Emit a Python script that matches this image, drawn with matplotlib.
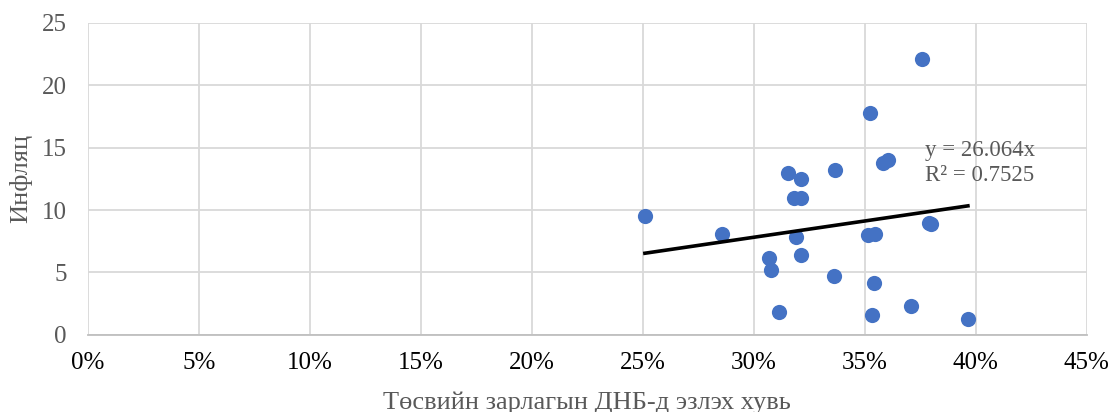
#!/usr/bin/env python3
# Scatter of budget spending share vs inflation with linear trend through origin

import numpy as np
import matplotlib.pyplot as plt
from matplotlib.ticker import FuncFormatter

# Data
spend_share = [0.376, 0.3524, 0.3584, 0.3606, 0.3368, 0.3156, 0.3212, 0.3183, 0.3213,
               0.251, 0.3791, 0.380, 0.2859, 0.319, 0.3513, 0.3546, 0.3069, 0.3214,
               0.3078, 0.3363, 0.3542, 0.3114, 0.3534, 0.3707, 0.3965]
inflation = [22.1, 17.8, 13.8, 14.0, 13.2, 13.0, 12.45, 11.0, 11.0,
             9.5, 9.0, 8.9, 8.08, 7.87, 8.0, 8.08, 6.16, 6.37,
             5.2, 4.7, 4.19, 1.87, 1.57, 2.32, 1.31]
slope = 26.064
r_squared = 0.7525

x_ticks = [0, 0.05, 0.10, 0.15, 0.20, 0.25, 0.30, 0.35, 0.40, 0.45]
y_ticks = [0, 5, 10, 15, 20, 25]

plt.rcParams['font.family'] = ['Liberation Serif', 'DejaVu Serif']

fig = plt.figure(figsize=(11.1, 4.12), dpi=100)
ax = fig.add_axes([0.079, 0.187, 0.9, 0.758])

ax.scatter(spend_share, inflation, s=120, color='#4472C4', zorder=3, linewidths=0)

# Trend line y = slope * x across data range
xs = np.array([min(spend_share), max(spend_share)])
ax.plot(xs, slope * xs, color='black', linewidth=2.6, zorder=4)

ax.text(0.377, 14.75, f"y = {slope}x", fontsize=16.5, color='#595959', va='center')
ax.text(0.377, 12.75, f"R² = {r_squared}", fontsize=16.5, color='#595959', va='center')

ax.set_xlim(0, 0.45)
ax.set_ylim(0, 25)
ax.set_xticks(x_ticks)
ax.set_yticks(y_ticks)
ax.xaxis.set_major_formatter(FuncFormatter(lambda v, _: f"{v*100:.0f}%"))
ax.tick_params(axis='both', length=0, labelsize=18, colors='#595959')
ax.tick_params(axis='x', labelcolor='black', pad=12)
ax.tick_params(axis='y', pad=15)

ax.grid(True, color='#D9D9D9', linewidth=1.3)
ax.set_axisbelow(True)
for side in ['top', 'right', 'left']:
    ax.spines[side].set_visible(False)
ax.spines['bottom'].set_color('#BFBFBF')
ax.spines['bottom'].set_linewidth(1.3)

ax.set_xlabel("Төсвийн зарлагын ДНБ-д эзлэх хувь", fontsize=19, color='#595959', labelpad=13)
ax.set_ylabel("Инфляц", fontsize=19, color='#595959', labelpad=7)

plt.savefig("out.png", dpi=100)
